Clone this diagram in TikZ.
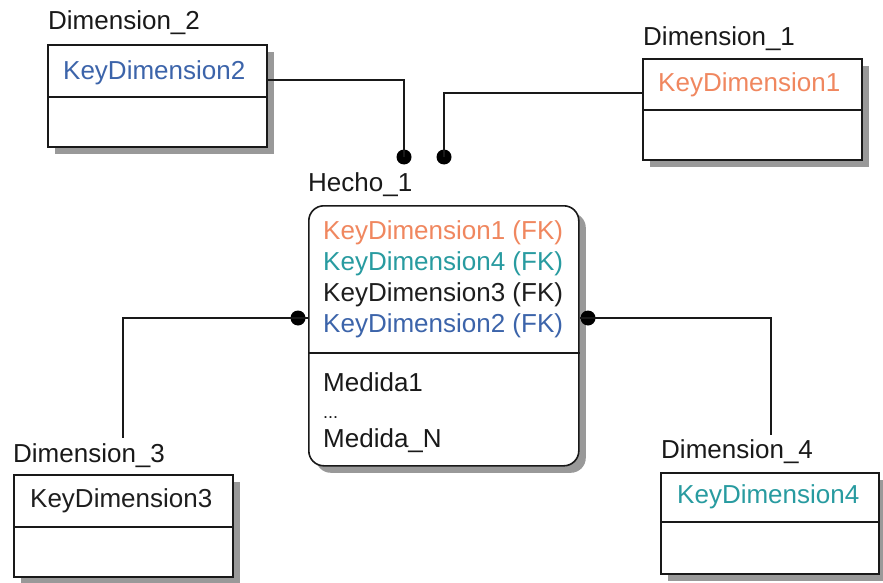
\documentclass[tikz,border=0pt]{standalone}
\usepackage{fontspec}
\setmainfont{Liberation Sans}
\usetikzlibrary{shadows,calc}
\definecolor{keyone}{RGB}{240,135,95}
\definecolor{keytwo}{RGB}{60,100,170}
\definecolor{keythree}{RGB}{30,30,30}
\definecolor{keyfour}{RGB}{40,155,160}
\definecolor{ink}{RGB}{25,25,25}
\tikzset{
  entity/.style={draw=ink, fill=white, line width=1.6pt, rectangle, inner sep=0pt,
    anchor=north west,
    drop shadow={shadow xshift=7pt, shadow yshift=-7pt, fill=gray!80, opacity=1}},
  fact/.style={entity, rounded corners=15pt},
  title/.style={anchor=west, inner sep=0pt, text=ink},
  attr/.style={anchor=west, inner sep=0pt},
  conn/.style={draw=ink, line width=1.6pt},
  joint/.style={circle, fill=black, inner sep=0pt, minimum size=15pt},
  divider/.style={draw=ink, line width=1.6pt}
}
\begin{document}
\begin{tikzpicture}[x=1pt, y=-1pt, font=\fontsize{26}{31}\selectfont]
\useasboundingbox (0,0) rectangle (883,583);

% dimension tables
\node[entity, minimum width=219pt, minimum height=102pt] (d2) at (47,44) {};
\node[entity, minimum width=219pt, minimum height=101pt] (d1) at (642,58) {};
\node[entity, minimum width=219pt, minimum height=102pt] (d3) at (13,474) {};
\node[entity, minimum width=218pt, minimum height=101pt] (d4) at (660,472) {};

% fact table
\node[fact, minimum width=270pt, minimum height=260pt] (h1) at (308,205) {};

% dividers
\draw[divider] ($(d2.north west)+(0,53)$) -- ($(d2.north east)+(0,53)$);
\draw[divider] ($(d1.north west)+(0,52)$) -- ($(d1.north east)+(0,52)$);
\draw[divider] ($(d3.north west)+(0,53)$) -- ($(d3.north east)+(0,53)$);
\draw[divider] ($(d4.north west)+(0,50)$) -- ($(d4.north east)+(0,50)$);
\draw[divider] ($(h1.north west)+(0,148)$) -- ($(h1.north east)+(0,148)$);

% table titles
\node[title] (t2) at (48,23) {Dimension\_2};
\node[title] (t1) at (643,39) {Dimension\_1};
\node[title] (t3) at (13,456) {Dimension\_3};
\node[title] (t4) at (661,452) {Dimension\_4};
\node[title] (th) at (308,185) {Hecho\_1};

% key attributes
\node[attr, text=keytwo] (k2) at (63,73) {KeyDimension2};
\node[attr, text=keyone] (k1) at (658,85) {KeyDimension1};
\node[attr, text=keythree] (k3) at (30,501) {KeyDimension3};
\node[attr, text=keyfour] (k4) at (677,497) {KeyDimension4};

% fact attributes
\node[attr, text=keyone] (f1) at (323,233) {KeyDimension1 (FK)};
\node[attr, text=keyfour] (f4) at (323,264) {KeyDimension4 (FK)};
\node[attr, text=keythree] (f3) at (323,295) {KeyDimension3 (FK)};
\node[attr, text=keytwo] (f2) at (323,326) {KeyDimension2 (FK)};
\node[attr, text=ink] (m1) at (323,382) {Medida1};
\node[attr, text=ink, anchor=base west, text height=4pt,
      font=\fontsize{18}{20}\selectfont] (md) at (323,418) {...};
\node[attr, text=ink] (mn) at (323,441) {Medida\_N};

% relationship end points
\node[joint] (j2) at (404,157) {};
\node[joint] (j1) at (444,157) {};
\node[joint] (j3) at (298,318) {};
\node[joint] (j4) at (588,318) {};
\coordinate (e3) at (123,438);
\coordinate (e4) at (771,435);

% relationships
\draw[conn] ($(d2.north east)+(0,36)$) -| (j2.center);
\draw[conn] ($(d1.north west)+(0,35)$) -| (j1.center);
\draw[conn] (h1.west |- j3) -- (j3.center) -| (e3);
\draw[conn] (h1.east |- j4) -- (j4.center) -| (e4);
\end{tikzpicture}
\end{document}
